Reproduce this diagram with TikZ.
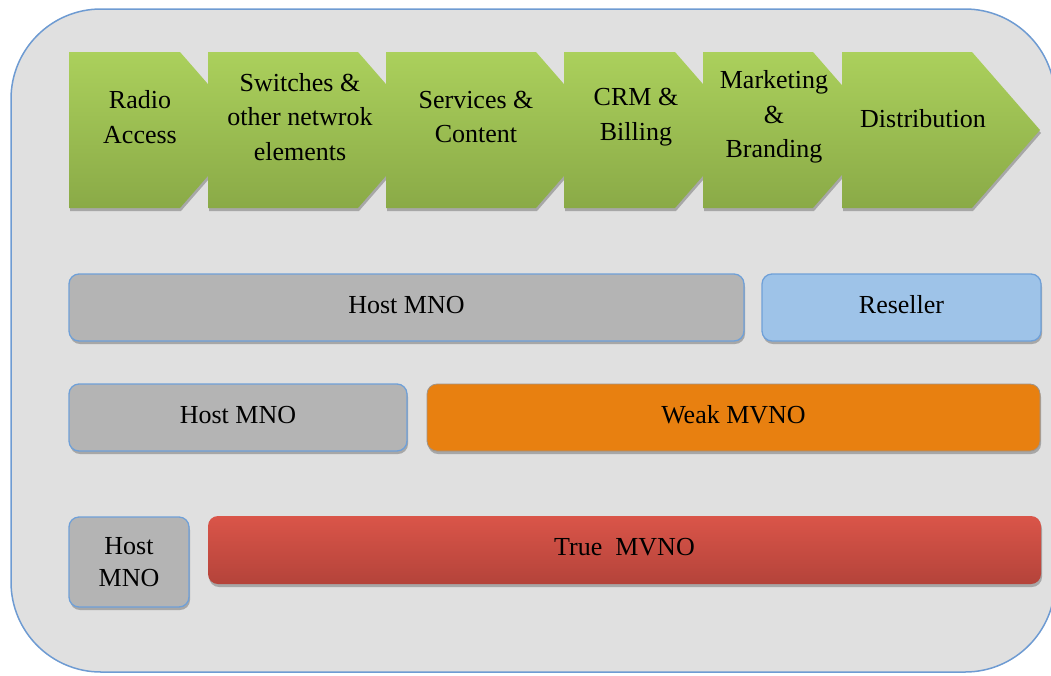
\documentclass[tikz,border=0pt]{standalone}
\usepackage{fontspec}
\setmainfont{Liberation Serif}
\usetikzlibrary{shadows}

\definecolor{panelfill}{HTML}{E0E0E0}
\definecolor{panelline}{HTML}{6E9BD2}
\definecolor{greentop}{HTML}{ABD05C}
\definecolor{greenbot}{HTML}{8AAA47}
\definecolor{hostgray}{HTML}{B4B4B4}
\definecolor{barline}{HTML}{6FA0D8}
\definecolor{resellerblue}{HTML}{9EC3E8}
\definecolor{weakorange}{HTML}{E88010}
\definecolor{redtop}{HTML}{DA5549}
\definecolor{redbot}{HTML}{B4433A}

% one step of the value chain: flat left side, pointed right side
\newcommand\drawchev[2]{%
  \path[chev] (#1,52) -- (#2,52) -- ({#2+68},130) -- (#2,208) -- (#1,208) -- cycle;}

\begin{document}
\begin{tikzpicture}[x=1pt,y=-1pt,
  softshadow/.style={drop shadow={shadow xshift=1pt,shadow yshift=-3pt,opacity=0.25,fill=black}},
  chev/.style={top color=greentop,bottom color=greenbot,softshadow},
  chevtext/.style={align=center,inner sep=0pt,font=\fontsize{26}{34.5}\selectfont},
  bar/.style={rectangle,rounded corners=10pt,inner sep=0pt,line width=1.3pt,
    font=\fontsize{26}{32}\selectfont,align=center,text depth=6pt,softshadow},
  hostbar/.style={bar,fill=hostgray,draw=barline},
]
\useasboundingbox (0,0) rectangle (1051,675);
\clip (0,0) rectangle (1051,675);

% background panel
\path[fill=panelfill,draw=panelline,line width=1.5pt,rounded corners=90pt]
  (11,9) rectangle (1055,672);

% value chain
\drawchev{69}{180}
\drawchev{208}{358}
\drawchev{386}{536}
\drawchev{564}{675}
\drawchev{703}{813}
\drawchev{842}{972}

\node[chevtext] (radio)   at (140,117) {Radio\\Access};
\node[chevtext] (switch)  at (300,117) {Switches \&\\other netwrok\\elements};
\node[chevtext] (service) at (476,117) {Services \&\\Content};
\node[chevtext] (crm)     at (636,117) {CRM \&\\Billing};
\node[chevtext] (market)  at (774,117) {Marketing\\\&\\Branding};
\node[chevtext] (distrib) at (923,119) {Distribution};

% reseller model
\node[hostbar,minimum width=675pt,minimum height=67pt] (hostA) at (406.5,307.5) {Host MNO};
\node[bar,fill=resellerblue,draw=barline,minimum width=279pt,minimum height=67pt]
  (reseller) at (901.5,307.5) {Reseller};

% weak MVNO model
\node[hostbar,minimum width=338pt,minimum height=67pt] (hostB) at (238,417.5) {Host MNO};
\node[bar,fill=weakorange,draw=barline!60!weakorange,line width=0.8pt,
  minimum width=613pt,minimum height=67pt] (weak) at (733.5,417.5) {Weak MVNO};

% true MVNO model
\node[hostbar,minimum width=120pt,minimum height=90pt,text depth=,
  font=\fontsize{26}{32}\selectfont] (hostC) at (129,562) {Host\\MNO};
\node[bar,top color=redtop,bottom color=redbot,minimum width=833pt,minimum height=68pt]
  (true) at (624.5,550) {True\ \ MVNO};
\end{tikzpicture}
\end{document}
